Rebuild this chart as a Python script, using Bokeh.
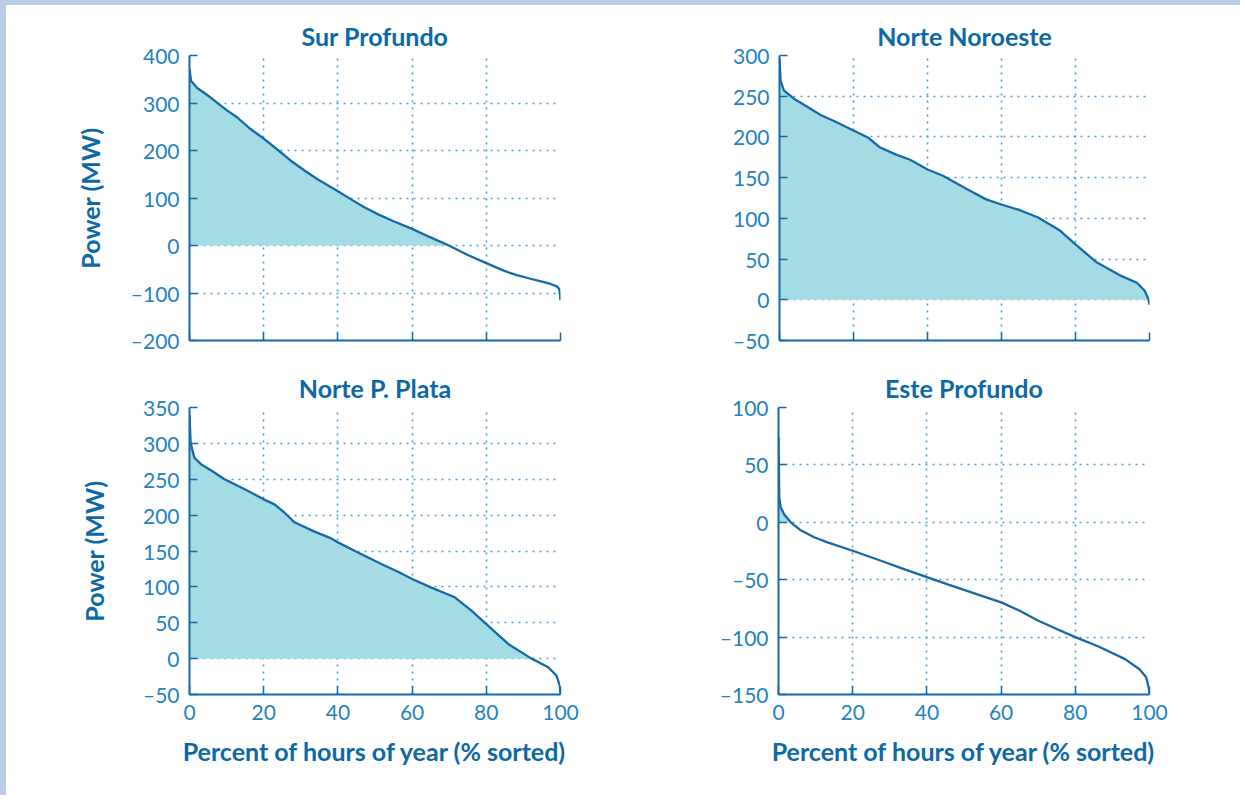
from bokeh.plotting import figure
from bokeh.layouts import column, row
from bokeh.models import Range1d, FixedTicker, Spacer
from bokeh.embed import file_html
from bokeh.resources import INLINE

# ---------------- data ----------------
pct_ticks = [0, 20, 40, 60, 80, 100]

sur_title = "Sur Profundo"
sur_x = [0, 0.4, 2, 5.6, 10, 12.8, 16, 20, 24, 27.2, 31, 34.4, 40, 44, 47, 51, 55, 60, 65,
         69.9, 75, 80, 84.7, 88, 91.9, 95, 97.3, 99, 99.7, 100]
sur_y = [372, 347, 332, 312, 285, 270, 248, 225, 200, 179, 158, 140, 114, 95, 81, 65, 51, 35, 17,
         0, -20, -37, -53, -62, -70, -76, -81, -86, -92, -115]
sur_ticks = [-200, -100, 0, 100, 200, 300, 400]

nno_title = "Norte Noroeste"
nno_x = [0, 0.3, 1.2, 3.9, 7.5, 11.1, 15, 20, 24, 27.2, 31.7, 35.3, 40, 44.3, 50.6, 56, 60, 65,
         69.9, 75.8, 80, 85.7, 92, 96.6, 98.7, 99.7, 100]
nno_y = [296, 269, 257, 247, 237, 227, 219, 208, 199, 187, 178, 172, 160, 152, 136, 123, 117, 110,
         101, 85, 68, 46, 30, 21, 11, 1, -6]
nno_ticks = [-50, 0, 50, 100, 150, 200, 250, 300]

npp_title = "Norte P. Plata"
npp_x = [0, 0.3, 1.3, 3.1, 6.7, 9.4, 11.2, 15.7, 20, 22.9, 25.5, 28.3, 33.7, 38.2, 40, 45.4, 51.7,
         56.2, 60, 65.2, 71.5, 76, 80, 85.9, 92.2, 96.7, 98.9, 99.8, 100]
npp_y = [340, 301, 280, 271, 259.5, 250, 245.6, 234, 222, 215, 204, 190, 177, 167.6, 162, 148, 132,
         121, 111, 99, 85.5, 67, 48, 20.5, 0, -12, -23.5, -37.5, -50]
npp_ticks = [-50, 0, 50, 100, 150, 200, 250, 300, 350]

est_title = "Este Profundo"
est_x = [0, 0.2, 0.6, 1.5, 3.3, 6, 9.6, 13.2, 20.2, 27.6, 34, 40.2, 45.6, 52, 60.2, 65, 69.9, 75,
         80, 86.1, 93.3, 97.3, 99.1, 99.8, 100]
est_y = [74, 22, 13, 7, 0, -7, -13, -17.5, -25, -33.5, -41, -48, -54, -61, -70, -77, -85.5, -93,
         -100, -108, -119, -128, -135, -144, -150]
est_ticks = [-150, -100, -50, 0, 50, 100]

y_label = "Power (MW)"
x_label = "Percent of hours of year (% sorted)"

# ---------------- style ----------------
LINE = "#1769a6"
FILL = "#a3dce5"
GRID = "#4d9fd2"
TICKTXT = "#2582c0"
TITLE = "#0d68a6"
FRAME = "#b9cce4"
FONT = "Lato"


def label_text(v):
    return ("\u2013" + str(-v)) if v < 0 else str(v)


def panel(title, xs, ys, yticks, width, height, bl, br, bt, bb, show_x, show_y, ystand):
    p = figure(width=width, height=height, output_backend="svg", toolbar_location=None,
               x_range=Range1d(0, 100), y_range=Range1d(yticks[0], yticks[-1]),
               min_border_left=bl, min_border_right=br, min_border_top=bt, min_border_bottom=bb)
    p.outline_line_color = None
    p.background_fill_color = "white"
    p.border_fill_color = "white"
    pos = [max(v, 0) for v in ys]
    p.varea(x=xs, y1=[0] * len(xs), y2=pos, fill_color=FILL)
    p.line(xs, ys, line_color=LINE, line_width=2.3)

    p.title.text = title
    p.title.align = "center"
    p.title.text_font = FONT
    p.title.text_font_size = "25px"
    p.title.text_font_style = "bold"
    p.title.text_color = TITLE

    for ax in (p.xaxis[0], p.yaxis[0]):
        ax.axis_line_color = LINE
        ax.axis_line_width = 2
        ax.major_tick_in = 8
        ax.major_tick_out = 0
        ax.major_tick_line_color = LINE
        ax.major_tick_line_width = 1.5
        ax.minor_tick_line_color = None
        ax.major_label_text_font = FONT
        ax.major_label_text_font_size = "21px"
        ax.major_label_text_color = TICKTXT
        ax.axis_label_text_font = FONT
        ax.axis_label_text_font_size = "25px"
        ax.axis_label_text_font_style = "bold"
        ax.axis_label_text_color = TITLE
        ax.major_label_standoff = 10

    p.xaxis.ticker = FixedTicker(ticks=pct_ticks)
    p.yaxis.ticker = FixedTicker(ticks=yticks)
    p.yaxis.major_label_overrides = {v: label_text(v) for v in yticks}
    if show_x:
        p.xaxis.axis_label = x_label
        p.xaxis.axis_label_standoff = 13
    else:
        p.xaxis.major_label_overrides = {v: "" for v in pct_ticks}
    if show_y:
        p.yaxis.axis_label = y_label
        p.yaxis.axis_label_standoff = ystand

    for g in (p.xgrid[0], p.ygrid[0]):
        g.grid_line_color = GRID
        g.grid_line_dash = "2 5"
        g.grid_line_width = 1.6
    return p


p1 = panel(sur_title, sur_x, sur_y, sur_ticks, 594, 360, 183, 40, 50, 25, False, True, 23)
p2 = panel(nno_title, nno_x, nno_y, nno_ticks, 589, 360, 179, 40, 50, 25, False, False, 0)
p3 = panel(npp_title, npp_x, npp_y, npp_ticks, 594, 419, 183, 40, 42, 90, True, True, 31)
p4 = panel(est_title, est_x, est_y, est_ticks, 589, 419, 178, 40, 42, 90, True, False, 0)

content = column(row(p1, p2), row(p3, p4))
top_band = Spacer(width=1240, height=5, styles={"background-color": FRAME})
left_band = Spacer(width=6, height=790, styles={"background-color": FRAME})
layout = column(top_band, row(left_band, content))
open("out.html", "w").write(file_html(layout, INLINE))
